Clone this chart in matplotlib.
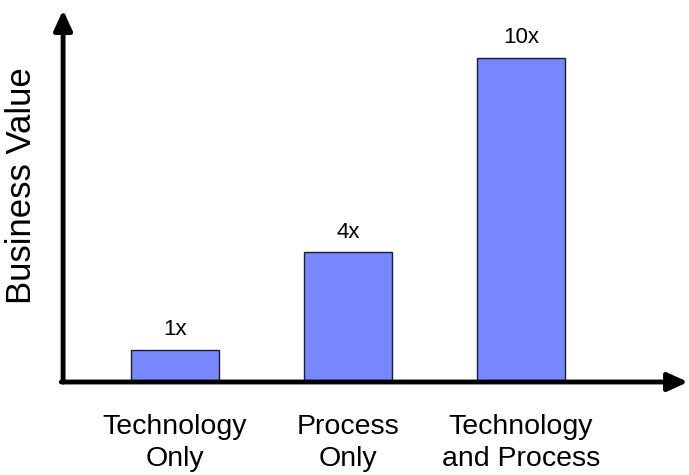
import matplotlib
matplotlib.use("Agg")
import matplotlib.pyplot as plt

# ======================
# DATA
# ======================
categories = ["Technology\nOnly", "Process\nOnly", "Technology\nand Process"]
values = [1, 4, 10]
value_labels = ["1x", "4x", "10x"]

plt.rcParams['font.family'] = ['Liberation Sans', 'DejaVu Sans']

fig = plt.figure(figsize=(6.89, 4.75), dpi=100)
ax = fig.add_axes([0, 0, 1, 1])

# layout: bar spacing 173px, ~32.4px per unit
ax.set_xlim(-1.0116, 2.971)
ax.set_ylim(-2.87, 11.79)
ax.axis("off")

x = list(range(len(categories)))
ax.bar(x, values, width=0.51, color="#7788FF", edgecolor="#1a1a33", linewidth=1.0, zorder=2)

# value labels above bars
for xi, v, lab in zip(x, values, value_labels):
    ax.text(xi, v + 0.3, lab, ha="center", va="bottom", fontsize=16, zorder=3)

# category labels below axis
for xi, cat in zip(x, categories):
    ax.text(xi, -1.0, cat, ha="center", va="top", fontsize=20.5, linespacing=1.3)

# axes with arrow heads
x0 = -0.647
arrow = dict(arrowstyle="-|>,head_length=1.2,head_width=0.55", color="black", lw=3.5,
             shrinkA=0, shrinkB=0)
ax.annotate("", xy=(x0, 11.48), xytext=(x0, 0), arrowprops=arrow, zorder=4)
ax.annotate("", xy=(2.965, 0), xytext=(x0 - 0.01, 0), arrowprops=arrow, zorder=4)

fig.text(22 / 689, 1 - 186 / 475, "Business Value", rotation=90, ha="center", va="center", fontsize=25)

plt.savefig("out.png", dpi=100)
